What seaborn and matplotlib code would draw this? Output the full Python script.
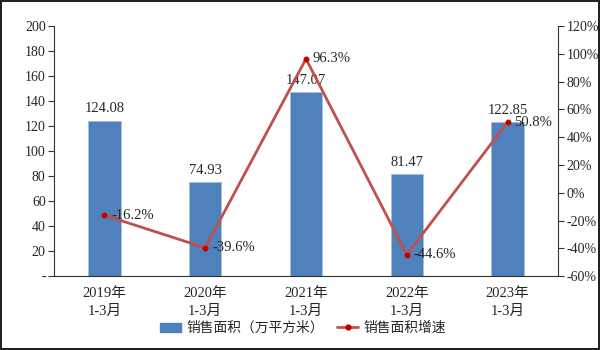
import matplotlib
matplotlib.use("Agg")
import matplotlib.pyplot as plt
import seaborn as sns
import pandas as pd
import numpy as np
from matplotlib.lines import Line2D
from matplotlib.patches import Patch
from matplotlib.ticker import FixedLocator

categories = ["2019年\n1-3月", "2020年\n1-3月", "2021年\n1-3月", "2022年\n1-3月", "2023年\n1-3月"]
area = [124.08, 74.93, 147.07, 81.47, 122.85]
growth = [-16.2, -39.6, 96.3, -44.6, 50.8]
area_labels = ["124.08", "74.93", "147.07", "81.47", "122.85"]
growth_labels = ["-16.2%", "-39.6%", "96.3%", "-44.6%", "50.8%"]
left_ticks = [0, 20, 40, 60, 80, 100, 120, 140, 160, 180, 200]
left_tick_labels = ["-", "20", "40", "60", "80", "100", "120", "140", "160", "180", "200"]
right_ticks = [-60, -40, -20, 0, 20, 40, 60, 80, 100, 120]
right_tick_labels = ["-60%", "-40%", "-20%", "0%", "20%", "40%", "60%", "80%", "100%", "120%"]
legend_labels = ["销售面积（万平方米）", "销售面积增速"]

sns.set_style("white")
FAM = ["Liberation Serif", "Noto Sans CJK SC", "DejaVu Sans"]
plt.rcParams["font.family"] = FAM
plt.rcParams["axes.unicode_minus"] = False

TXT = "#262626"
BAR = "#4F81BD"
LINE = "#C0504D"

df = pd.DataFrame({"cat": categories, "area": area, "growth": growth})

fig = plt.figure(figsize=(6, 3.5), dpi=100)
fig.patch.set_edgecolor("#222222")
fig.patch.set_linewidth(1.5)
ax = fig.add_axes([0.09, 0.211, 0.84, 0.715])

sns.barplot(data=df, x="cat", y="area", color=BAR, width=0.32, ax=ax,
            saturation=1, edgecolor="#A8C0DE", linewidth=0.6)
ax.set_xlim(-0.5, 4.5)
ax.set_ylim(0, 200)
ax.set_yticks(left_ticks)
ax.set_yticklabels(left_tick_labels)
ax.set_xlabel("")
ax.set_ylabel("")
ax.xaxis.set_minor_locator(FixedLocator([0.5, 1.5, 2.5, 3.5]))
ax.tick_params(axis="x", which="both", direction="out", length=4, width=0.8,
               color="#333333", labelsize=10.5, labelcolor=TXT, pad=4)
for t in ax.get_xticklabels():
    t.set_linespacing(1.5)
ax.tick_params(axis="y", direction="out", length=4, width=0.8, color="#333333",
               labelsize=10, labelcolor=TXT, pad=2)
for s in ["top", "right"]:
    ax.spines[s].set_visible(False)
for s in ["left", "bottom"]:
    ax.spines[s].set_color("#333333")
    ax.spines[s].set_linewidth(0.8)

for i, (v, lab) in enumerate(zip(area, area_labels)):
    ax.annotate(lab, (i, v), xytext=(0, 4), textcoords="offset points",
                ha="center", va="bottom", fontsize=10.5, color=TXT)

ax2 = ax.twinx()
sns.lineplot(x=np.arange(len(growth)), y=growth, ax=ax2, color=LINE, linewidth=2,
             marker="o", markersize=3.5, markerfacecolor="#C00000",
             markeredgecolor="#C00000")
ax2.set_ylim(-60, 120)
ax2.set_yticks(right_ticks)
ax2.set_yticklabels(right_tick_labels)
ax2.tick_params(axis="y", direction="out", length=4, width=0.8, color="#333333",
                labelsize=10, labelcolor=TXT, pad=2)
for s in ["top", "left", "bottom"]:
    ax2.spines[s].set_visible(False)
ax2.spines["right"].set_visible(True)
ax2.spines["right"].set_color("#333333")
ax2.spines["right"].set_linewidth(0.8)
ax2.set_ylabel("")

for i, (v, lab) in enumerate(zip(growth, growth_labels)):
    ax2.annotate(lab, (i, v), xytext=(5, 0), textcoords="offset points",
                 ha="left", va="center", fontsize=10.5, color=TXT)

handles = [Patch(facecolor=BAR, edgecolor=BAR),
           Line2D([0], [0], color=LINE, lw=2, marker="o", markersize=3.5,
                  markerfacecolor="#C00000", markeredgecolor="#C00000")]
fig.legend(handles, legend_labels, loc="center", bbox_to_anchor=(0.505, 0.062),
           ncol=2, frameon=False, handlelength=1.5, handleheight=0.6,
           columnspacing=1.0, handletextpad=0.4, labelcolor=TXT,
           prop={"family": FAM, "size": 9.9})

fig.savefig("out.png", dpi=100, edgecolor=fig.get_edgecolor())
